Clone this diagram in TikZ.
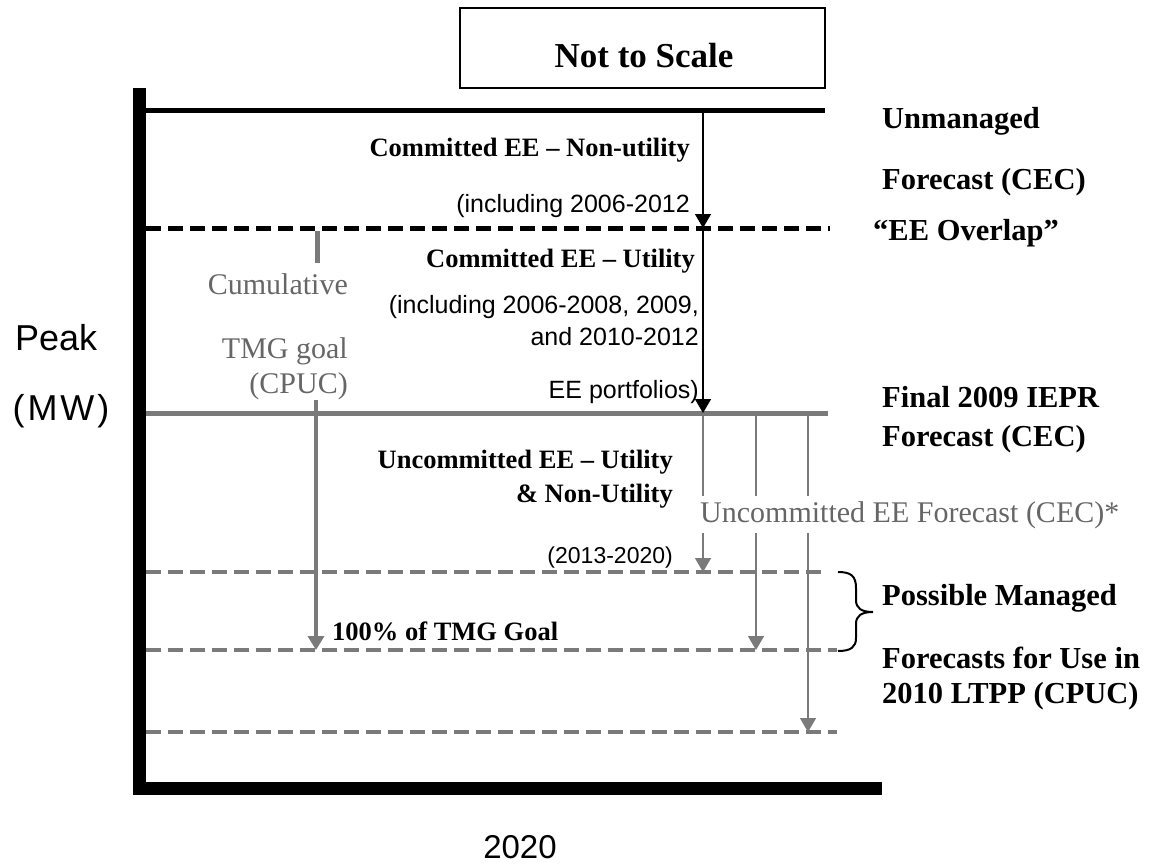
\documentclass[tikz,border=0pt]{standalone}
\usepackage{fontspec}
\setmainfont{Liberation Serif}
\newfontfamily\arialfont{Liberation Sans}
\usetikzlibrary{arrows.meta}
\newcommand{\fs}[1]{\fontsize{#1}{#1}\selectfont}
\newcommand{\levelline}[4]{
	\coordinate (#1-l) at (146,#2);
	\coordinate (#1-r) at (#3,#2);
	\draw[#4] (#1-l) -- (#1-r);
}
\newcommand{\stacklabels}[3]{
	\foreach \x/\y/\t [count=\i] in {#3} {
		\node[#2] (#1\i) at (\x,\y) {\t};
	};
}

\begin{document}
\begin{tikzpicture}[x=1pt,y=-1pt,
	rlbl/.style={anchor=base west,inner sep=0pt,font=\bfseries\fs{30.5}},
	mlbl/.style={anchor=base east,inner sep=0pt,font=\bfseries\fs{26.5}},
	slbl/.style={anchor=base east,inner sep=0pt,font=\arialfont\fs{25}},
	glbl/.style={anchor=base east,inner sep=0pt,text=black!60,font=\fs{30}},
	greyline/.style={draw=black!52,color=black!52},
	dashline/.style={line width=5pt,dash pattern=on 15pt off 7pt},
	tip/.style={-{Triangle[width=16pt,length=14pt]}}]
	\useasboundingbox (0,0) rectangle (1149,865);
	
	\node[draw,line width=1.5pt,minimum width=365pt,minimum height=80pt,inner sep=0pt] (scalebox) at (642.5,48) {};
	\node[anchor=base,inner sep=0pt,font=\bfseries\fs{35}] (scaletxt) at (644,67) {Not to Scale};
	
	\coordinate (colA) at (703,0);
	\coordinate (colB) at (756,0);
	\coordinate (colC) at (808,0);
	\coordinate (colT) at (316,0);
	\coordinate (ticktop) at (317,231);
	\coordinate (tmgtop) at (316,400);
	
	\draw[greyline,line width=5pt] (ticktop) -- ++(0,32);
	
	\levelline{unm}{110}{825}{line width=5pt}
	\levelline{ovl}{228}{830}{dashline}
	\levelline{iepr}{413}{828}{greyline,line width=5pt}
	\levelline{mgdA}{572}{823}{greyline,dashline,line width=4pt}
	\levelline{mgdB}{650}{837}{greyline,dashline,line width=4pt}
	\levelline{mgdC}{732}{837}{greyline,dashline,line width=4pt}
	
	\draw[line width=13pt] (139.5,88) -- (139.5,788.5) -- (882,788.5);
	
	\draw[tip,line width=1.5pt] (colA |- unm-l) -- (colA |- ovl-l);
	\draw[tip,line width=1.5pt] (colA |- ovl-l) -- (colA |- iepr-l);
	\foreach \c/\m in {colA/mgdA,colB/mgdB,colC/mgdC}
		\draw[tip,greyline,line width=1.5pt] (\c |- iepr-l) -- (\c |- \m-l);
	\draw[tip,greyline,line width=4pt] (tmgtop) -- (colT |- mgdB-l);
	
	\draw[line width=2pt] (838,572) .. controls (851,572) and (856,576) .. (856,588) -- (856,600)
		.. controls (856,608) and (861,612) .. (873,612) .. controls (861,612) and (856,616) .. (856,624)
		-- (856,638) .. controls (856,647) and (851,651) .. (838,651);
	
	\stacklabels{nonutil}{mlbl}{690/156/{Committed EE – Non-utility}}
	\stacklabels{nonutilyr}{slbl}{690/212/{(including 2006-2012}}
	\stacklabels{util}{mlbl}{695/267/{Committed EE – Utility}}
	\stacklabels{utilyr}{slbl}{699/313/{(including 2006-2008, 2009,},699/345/{and 2010-2012},699/398/{EE portfolios)}}
	\stacklabels{tmg}{glbl}{348/294/{Cumulative},348/358/{TMG goal},348/393/{(CPUC)}}
	\stacklabels{uncom}{mlbl}{673/468/{Uncommitted EE – Utility},673/502/{\& Non-Utility}}
	\stacklabels{uncomyr}{slbl,font=\arialfont\fs{23}}{673/563/{(2013-2020)}}
	\node[mlbl,anchor=base west] (goal) at (332,640) {100\% of TMG Goal};
	\node[glbl,anchor=base west,fill=white,inner ysep=5pt] (uncomfc) at (700,522) {Uncommitted EE Forecast (CEC)*};
	
	\stacklabels{right}{rlbl}{882/128/{Unmanaged},882/189/{Forecast (CEC)},873/240/{“EE Overlap”},882/407/{Final 2009 IEPR},882/446/{Forecast (CEC)},882/605/{Possible Managed},882/668/{Forecasts for Use in},882/703/{2010 LTPP (CPUC)}}
	
	\node[anchor=base west,inner sep=0pt,font=\arialfont\fs{36}] (peak) at (15,350) {Peak};
	\node[anchor=base,inner sep=0pt,font=\arialfont\fs{36}\addfontfeature{LetterSpace=8}] (mw) at (61,420) {(MW)};
	\node[anchor=base,inner sep=0pt,font=\arialfont\fs{33}] (year) at (520,858) {2020};
\end{tikzpicture}
\end{document}
